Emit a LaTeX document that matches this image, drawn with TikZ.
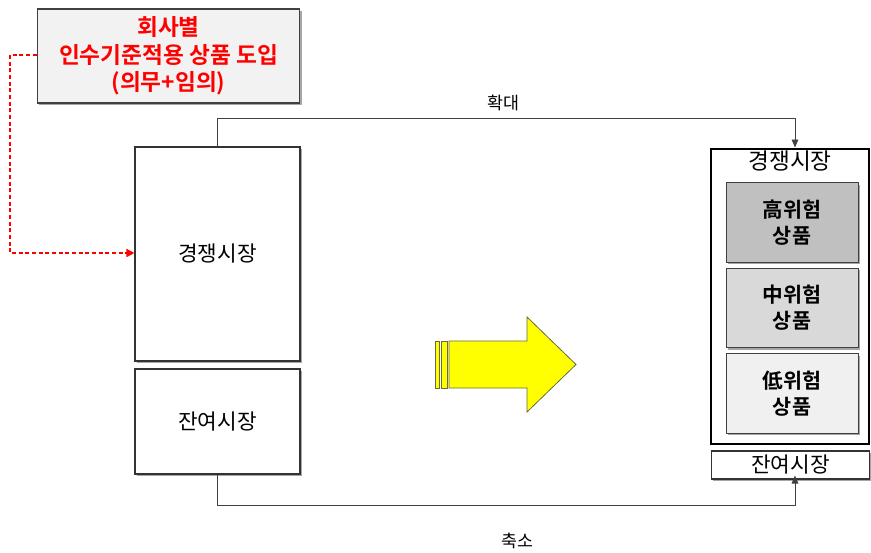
\documentclass[tikz,border=0pt]{standalone}
\usepackage{fontspec}
\setmainfont{Noto Sans CJK KR}
\newfontfamily\krbold{Noto Sans CJK KR Bold}
\usetikzlibrary{shadows,arrows.meta}
\definecolor{boxgray}{HTML}{F2F2F2}
\definecolor{hiGray}{HTML}{C0C0C0}
\definecolor{midGray}{HTML}{D9D9D9}
\definecolor{loGray}{HTML}{F0F0F0}
\definecolor{arrowYellow}{HTML}{FFFF00}
\definecolor{arrowEdge}{HTML}{6B6B3A}
\tikzset{
  shad/.style={drop shadow={shadow xshift=1.5pt,shadow yshift=-1.5pt,opacity=0.35,fill=black}},
  panel/.style={draw=black!80,line width=0.8pt,fill=white,shad,inner sep=0pt,font=\fontsize{16}{19}\selectfont},
  riskbox/.style={draw=black!75,line width=0.6pt,shad,inner sep=0pt,align=center,font=\krbold\fontsize{15.5}{19.5}\selectfont,minimum width=99pt,minimum height=59.5pt},
  conn/.style={draw=black!75,line width=0.7pt},
  tip/.style={-{Triangle[length=6pt,width=5pt]}},
  redconn/.style={draw=red,line width=1.1pt,dashed,dash pattern=on 3pt off 2pt,-{Triangle[length=6pt,width=6pt]}},
  lbl/.style={font=\fontsize{13}{15}\selectfont}
}
\begin{document}
\begin{tikzpicture}[x=0.75pt,y=-0.75pt]
\useasboundingbox (0,0) rectangle (871,553);
% top note box
\node[draw=black!75,line width=0.8pt,fill=boxgray,shad,minimum width=197pt,minimum height=70.5pt,align=center,text=red,font=\krbold\fontsize{17}{20.6}\selectfont] (note) at (168.5,56) {회사별\\인수기준적용 상품 도입\\(의무+임의)};
% left panels
\node[panel,minimum width=123.75pt,minimum height=160.5pt] (lcomp) at (217.5,254) {경쟁시장};
\node[panel,minimum width=123.75pt,minimum height=78.75pt] (lres) at (217.5,421.5) {잔여시장};
% right big box
\node[draw=black,line width=1.6pt,fill=white,minimum width=118pt,minimum height=221pt,inner sep=0pt] (rcomp) at (790,296.5) {};
\node[font=\fontsize{17}{19}\selectfont,anchor=north,inner sep=1pt] (rtitle) at (790,149) {경쟁시장};
\node[riskbox,fill=hiGray] (hi) at (792,222.5) {高위험\\상품};
\node[riskbox,fill=midGray] (mid) at (792,308) {中위험\\상품};
\node[riskbox,fill=loGray] (lo) at (792,393.5) {低위험\\상품};
\node[draw=black!80,line width=0.8pt,fill=white,shad,minimum width=119pt,minimum height=21pt,inner sep=0pt,font=\fontsize{16}{18}\selectfont] (rres) at (790.5,465) {잔여시장};
% connectors
\coordinate (tA) at (217.5,118);
\coordinate (tB) at (795,118);
\draw[conn,tip] (lcomp.north) -- (tA) -- (tB) -- (795,147.5);
\node[lbl] (expand) at (503,103) {확대};
\coordinate (bA) at (217.5,505);
\coordinate (bB) at (795,505);
\draw[conn,tip] (lres.south) -- (bA) -- (bB) -- (795,475.5);
\node[lbl] (shrink) at (517,541) {축소};
% red dashed
\coordinate (r1) at (10,55);
\coordinate (r2) at (10,253);
\draw[redconn] (note.west |- 0,55) -- (r1) -- (r2) -- (lcomp.west |- r2);
% yellow arrow
\draw[draw=arrowEdge,line width=0.6pt,fill=arrowYellow] (435,341) rectangle (439.5,388);
\draw[draw=arrowEdge,line width=0.6pt,fill=arrowYellow] (441.5,341) rectangle (447,388);
\draw[draw=arrowEdge,line width=0.6pt,fill=arrowYellow] (449,341) -- (527,341) -- (527,317) -- (576,364.5) -- (527,412) -- (527,388) -- (449,388) -- cycle;
\end{tikzpicture}
\end{document}
